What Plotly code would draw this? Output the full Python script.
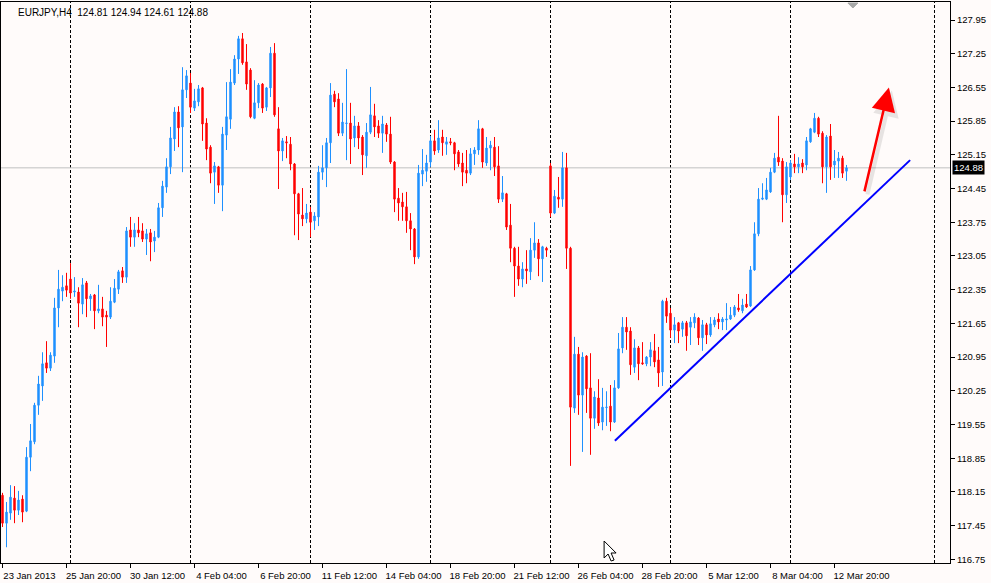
import plotly.graph_objects as go

# ---- data (EURJPY H4) ----
open_ = [118.08,117.50,117.71,118.02,117.77,118.00,117.75,118.87,119.19,119.95,
 120.35,120.83,120.72,120.97,121.97,122.32,122.43,122.57,122.30,122.30,
 122.05,122.49,122.16,122.24,121.91,121.95,121.82,121.78,122.09,122.36,
 122.74,122.61,123.59,123.44,123.59,123.57,123.40,123.53,123.36,123.44,
 124.05,124.48,124.90,125.48,126.04,125.73,126.50,126.64,126.12,126.25,
 126.54,125.81,125.31,124.79,124.90,124.52,125.56,125.89,126.64,127.14,
 127.56,127.08,126.91,125.91,126.23,126.62,126.14,126.54,127.26,125.69,
 125.23,125.42,125.37,124.96,124.34,123.90,123.82,123.96,123.78,123.86,
 124.79,124.88,125.40,126.41,126.31,125.60,125.80,125.81,125.50,125.75,
 125.52,125.13,125.62,125.96,125.75,125.60,125.77,125.58,125.00,124.25,
 124.17,124.07,123.78,123.61,123.03,124.75,124.81,125.00,125.44,125.25,
 125.52,125.37,125.42,125.40,125.21,124.98,124.83,124.77,125.17,125.25,
 125.69,124.98,125.29,125.31,124.92,124.23,124.34,123.69,123.21,122.84,
 122.57,122.78,122.72,123.17,123.32,122.99,123.21,124.92,123.94,124.27,
 124.23,124.88,123.21,119.89,121.01,120.16,120.97,120.31,119.68,120.10,
 119.60,119.90,119.93,119.60,120.31,121.14,121.57,121.49,120.74,121.14,
 120.83,120.81,120.95,121.08,120.89,120.64,122.11,121.86,121.51,121.66,
 121.53,121.66,121.57,121.66,121.76,121.35,121.62,121.41,121.62,121.74,
 121.68,121.72,121.74,121.82,121.97,121.91,122.05,122.01,122.76,123.51,
 124.23,124.23,124.38,124.79,125.10,125.02,124.32,124.69,124.96,124.90,
 124.98,124.94,125.42,125.62,125.91,125.60,124.90,125.54,124.94,125.02,
 125.08,124.81]
high = [118.13,117.94,118.29,118.27,118.17,118.08,119.08,119.56,120.00,120.56,
 121.05,121.28,121.05,122.18,122.76,122.65,122.70,122.90,122.61,122.40,
 122.59,122.53,122.26,122.26,122.45,122.20,121.91,122.40,122.57,122.76,
 122.82,123.65,123.86,123.73,123.86,123.73,123.61,123.61,123.57,124.15,
 124.61,125.08,125.73,126.14,126.16,126.97,126.91,126.85,126.52,126.60,
 126.56,125.91,125.35,125.00,124.92,125.73,126.66,126.93,127.22,127.62,
 127.68,127.45,126.95,126.70,126.64,126.64,126.56,127.39,127.47,126.14,
 125.50,125.54,125.52,124.98,124.36,124.46,124.13,124.07,123.96,124.92,
 125.35,125.50,126.64,126.48,126.43,126.23,126.93,126.23,125.96,125.83,
 125.56,125.81,126.56,126.21,125.87,125.96,125.81,125.94,125.02,124.46,
 124.36,124.38,123.94,123.63,124.94,125.27,125.15,125.54,125.67,125.87,
 125.67,125.52,125.50,125.42,125.25,125.19,125.25,125.29,125.31,125.87,
 125.71,125.52,125.44,125.52,125.33,124.71,124.36,124.13,123.24,123.24,
 122.92,123.17,123.42,123.75,123.40,123.26,123.24,124.98,124.42,124.69,
 125.21,125.19,123.24,121.37,121.16,121.05,120.99,121.03,120.24,120.49,
 120.31,120.24,120.37,120.47,121.45,121.78,121.78,121.57,121.32,121.18,
 121.26,120.97,121.26,121.43,121.16,122.14,122.18,121.97,121.78,121.68,
 121.70,121.70,121.78,121.86,121.78,121.72,121.66,121.78,121.78,121.86,
 121.78,122.07,121.99,122.03,122.26,122.16,122.26,122.84,123.75,124.46,
 124.56,124.67,124.88,125.19,125.96,125.08,125.00,125.04,125.17,125.10,
 125.06,125.52,125.71,126.02,125.94,125.64,125.56,125.79,125.25,125.21,
 125.13,124.94]
low = [117.42,117.00,117.57,117.50,117.67,117.52,117.73,118.58,119.14,119.75,
 120.04,120.62,120.66,120.83,121.57,122.11,122.20,122.16,122.20,121.57,
 121.84,121.78,121.91,121.53,121.86,121.59,121.16,121.74,122.07,122.26,
 122.49,122.49,123.24,123.24,123.44,123.34,123.07,122.94,123.13,123.42,
 123.86,124.36,124.75,125.23,125.31,124.79,126.33,126.02,126.06,126.16,
 125.44,125.04,124.56,124.13,124.36,123.98,125.25,125.69,126.60,126.83,
 127.02,126.50,125.91,125.89,126.12,126.02,126.06,126.35,125.94,124.44,
 125.02,125.08,124.83,123.48,123.38,123.67,123.73,123.44,123.59,123.67,
 124.63,124.48,124.98,126.14,125.54,125.54,125.04,124.96,125.31,125.27,
 124.73,124.88,125.58,125.52,125.50,125.19,125.42,124.96,123.96,123.78,
 123.78,123.53,123.17,122.88,122.99,124.50,124.59,124.90,125.15,125.19,
 125.13,125.15,125.35,124.83,124.90,124.50,124.56,124.73,124.94,125.15,
 124.88,124.92,124.83,124.71,124.15,124.17,123.59,122.92,122.20,122.43,
 122.40,122.47,122.55,123.01,122.63,122.51,123.03,123.86,123.92,124.05,
 124.07,122.78,118.69,119.79,119.75,118.98,119.79,118.92,119.46,119.52,
 119.43,119.52,119.41,119.58,120.29,121.03,121.10,120.58,120.62,120.47,
 120.79,120.76,120.76,120.74,120.33,120.35,121.66,121.35,121.24,121.24,
 121.37,121.08,121.20,121.55,121.20,121.08,121.22,121.37,121.57,121.53,
 121.51,121.51,121.72,121.78,121.89,121.86,121.97,121.99,122.74,123.46,
 124.21,124.21,124.36,124.77,124.92,123.75,124.15,124.63,124.77,124.77,
 124.77,124.83,125.40,125.60,125.52,124.56,124.36,124.63,124.67,124.67,
 124.67,124.61]
close = [117.50,117.73,118.04,117.77,117.98,117.73,118.87,119.21,119.95,120.39,
 120.81,120.72,120.99,121.97,122.36,122.40,122.34,122.28,122.32,122.07,
 122.45,122.16,122.22,121.91,121.95,121.78,121.78,122.11,122.38,122.72,
 122.61,123.57,123.44,123.59,123.53,123.40,123.51,123.34,123.44,124.05,
 124.50,124.90,125.50,126.04,125.71,126.50,126.79,126.14,126.27,126.52,
 125.79,125.27,124.77,124.92,124.52,125.58,125.94,126.66,127.14,127.56,
 127.06,126.62,125.94,126.23,126.60,126.12,126.54,127.26,125.98,125.23,
 125.44,125.40,124.96,124.34,123.92,123.82,123.94,123.75,123.88,124.79,
 124.88,125.40,126.39,126.25,125.60,125.83,125.81,125.48,125.75,125.50,
 125.15,125.62,125.98,125.73,125.60,125.79,125.58,125.00,124.23,124.15,
 124.07,123.78,123.61,123.03,124.77,124.83,124.98,125.44,125.23,125.50,
 125.40,125.42,125.40,125.17,124.96,124.79,124.77,125.17,125.25,125.69,
 125.00,125.29,125.35,124.90,124.23,124.36,123.65,123.21,122.84,122.57,
 122.78,122.74,123.17,123.32,122.99,123.24,123.17,123.94,124.29,124.23,
 124.88,123.21,119.91,121.01,120.16,120.95,120.29,119.68,120.12,119.58,
 119.91,119.91,119.60,120.31,121.12,121.57,121.47,120.79,121.14,120.81,
 120.81,120.95,121.10,120.85,120.62,122.11,121.80,121.51,121.62,121.49,
 121.66,121.39,121.68,121.78,121.35,121.62,121.41,121.64,121.72,121.68,
 121.74,121.74,121.82,121.99,121.93,122.03,121.99,122.76,123.51,124.23,
 124.25,124.42,124.79,125.08,125.00,124.32,124.90,124.98,124.90,124.96,
 124.90,125.44,125.69,125.91,125.58,124.90,125.52,124.90,125.02,125.08,
 124.77,124.88]

bar_idx = list(range(len(close)))
tick_idx = [0, 16, 32, 48, 64, 80, 96, 112, 128, 144, 160, 176, 192, 208]
tick_text = ["23 Jan 2013", "25 Jan 20:00", "30 Jan 12:00", "4 Feb 04:00",
             "6 Feb 20:00", "11 Feb 12:00", "14 Feb 04:00", "18 Feb 20:00",
             "21 Feb 12:00", "26 Feb 04:00", "28 Feb 20:00", "5 Mar 12:00",
             "8 Mar 04:00", "12 Mar 20:00"]
week_start_idx = [17, 47, 77, 107, 137, 167, 197, 233]
price_ticks = [127.95, 127.25, 126.55, 125.85, 125.15, 124.45, 123.75, 123.05,
               122.35, 121.65, 120.95, 120.25, 119.55, 118.85, 118.15, 117.45, 116.75]
trend_start = (153.1, 119.21)
trend_end = (226.9, 125.04)
arrow_tail = (215.4, 124.36)
arrow_tip = (221.6, 126.55)
cursor_pos = (150.4, 117.13)
shift_marker_idx = 212.6

BG = "#FFFBFA"
FONT = "Liberation Sans"

fig = go.Figure()
fig.add_trace(go.Candlestick(
    x=bar_idx, open=open_, high=high, low=low, close=close,
    increasing=dict(line=dict(color="#1E90FF", width=1), fillcolor="#1E90FF"),
    decreasing=dict(line=dict(color="#FF0000", width=1), fillcolor="#FF0000"),
    whiskerwidth=0, showlegend=False, hoverinfo="skip"))

shapes = []
for s in week_start_idx:
    shapes.append(dict(type="line", xref="x", yref="paper", x0=s, x1=s, y0=0, y1=1,
                       line=dict(color="black", width=1, dash="3px,2px"), layer="below"))
shapes.append(dict(type="line", xref="paper", yref="y", x0=0, x1=1,
                   y0=close[-1], y1=close[-1], line=dict(color="#C0C0C0", width=1),
                   layer="below"))
shapes.append(dict(type="line", xref="x", yref="y", x0=trend_start[0], y0=trend_start[1],
                   x1=trend_end[0], y1=trend_end[1], line=dict(color="#0000FF", width=2)))
# chart shift marker (small gray triangle at top)
shapes.append(dict(type="path", xref="x", yref="paper", xsizemode="pixel", ysizemode="pixel",
                   xanchor=shift_marker_idx, yanchor=1,
                   path="M -5,-1 L 5,-1 L 0,-6 Z", fillcolor="#A8A8A8",
                   line=dict(color="#A8A8A8", width=1)))
# mouse cursor
shapes.append(dict(type="path", xref="x", yref="y", xsizemode="pixel", ysizemode="pixel",
                   xanchor=cursor_pos[0], yanchor=cursor_pos[1],
                   path="M 0,0 L 0,-17 L 4,-13 L 7,-20 L 10,-19 L 7,-12 L 12,-12 Z",
                   fillcolor="white", line=dict(color="black", width=1)))

annotations = [
    dict(xref="paper", yref="paper", x=0, y=1, xanchor="left", yanchor="top",
         xshift=15, yshift=-3, showarrow=False,
         text="EURJPY,H4\u00a0\u00a0%.2f %.2f %.2f %.2f" % (open_[-1], high[-1], low[-1], close[-1]),
         font=dict(family=FONT, size=10, color="black")),
    dict(xref="paper", yref="y", x=1, y=close[-1], xanchor="left", yanchor="middle",
         xshift=2, showarrow=False, text="%.2f" % close[-1], bgcolor="black",
         borderpad=1, font=dict(family=FONT, size=9.5, color="white")),
    # arrow shadow
    dict(xref="x", yref="y", axref="x", ayref="y", x=arrow_tip[0], y=arrow_tip[1],
         ax=arrow_tail[0], ay=arrow_tail[1], text="", showarrow=True,
         arrowhead=2, arrowsize=1.3, arrowwidth=4, arrowcolor="rgba(0,0,0,0.09)",
         xshift=3, yshift=-3),
    dict(xref="x", yref="y", axref="x", ayref="y", x=arrow_tip[0], y=arrow_tip[1],
         ax=arrow_tail[0], ay=arrow_tail[1], text="", showarrow=True,
         arrowhead=2, arrowsize=1.9, arrowwidth=2.5, arrowcolor="#FF0000"),
]

fig.update_layout(
    width=991, height=583,
    margin=dict(l=1, r=41, t=2, b=20, pad=0),
    paper_bgcolor=BG, plot_bgcolor=BG,
    boxgap=0.5,
    shapes=shapes, annotations=annotations,
    xaxis=dict(range=[-0.375, 236.875], tickmode="array", tickvals=tick_idx,
               ticktext=tick_text, ticks="outside", ticklen=4, tickcolor="black",
               showline=True, linecolor="black", linewidth=1, mirror=True,
               showgrid=False, zeroline=False, rangeslider=dict(visible=False),
               ticklabelshift=27,
               tickfont=dict(family=FONT, size=9.5, color="black")),
    yaxis=dict(side="right", range=[116.673, 128.324], tickmode="array",
               tickvals=price_ticks, ticktext=["%.2f" % v for v in price_ticks],
               ticks="outside", ticklen=4, tickcolor="black",
               showline=True, linecolor="black", linewidth=1, mirror=True,
               showgrid=False, zeroline=False,
               tickfont=dict(family=FONT, size=9.5, color="black")),
    font=dict(family=FONT, size=10, color="black"),
)

fig.write_html("out.html", config={"displayModeBar": False},
               post_script="document.body.style.margin='0';document.body.style.overflow='hidden';")
